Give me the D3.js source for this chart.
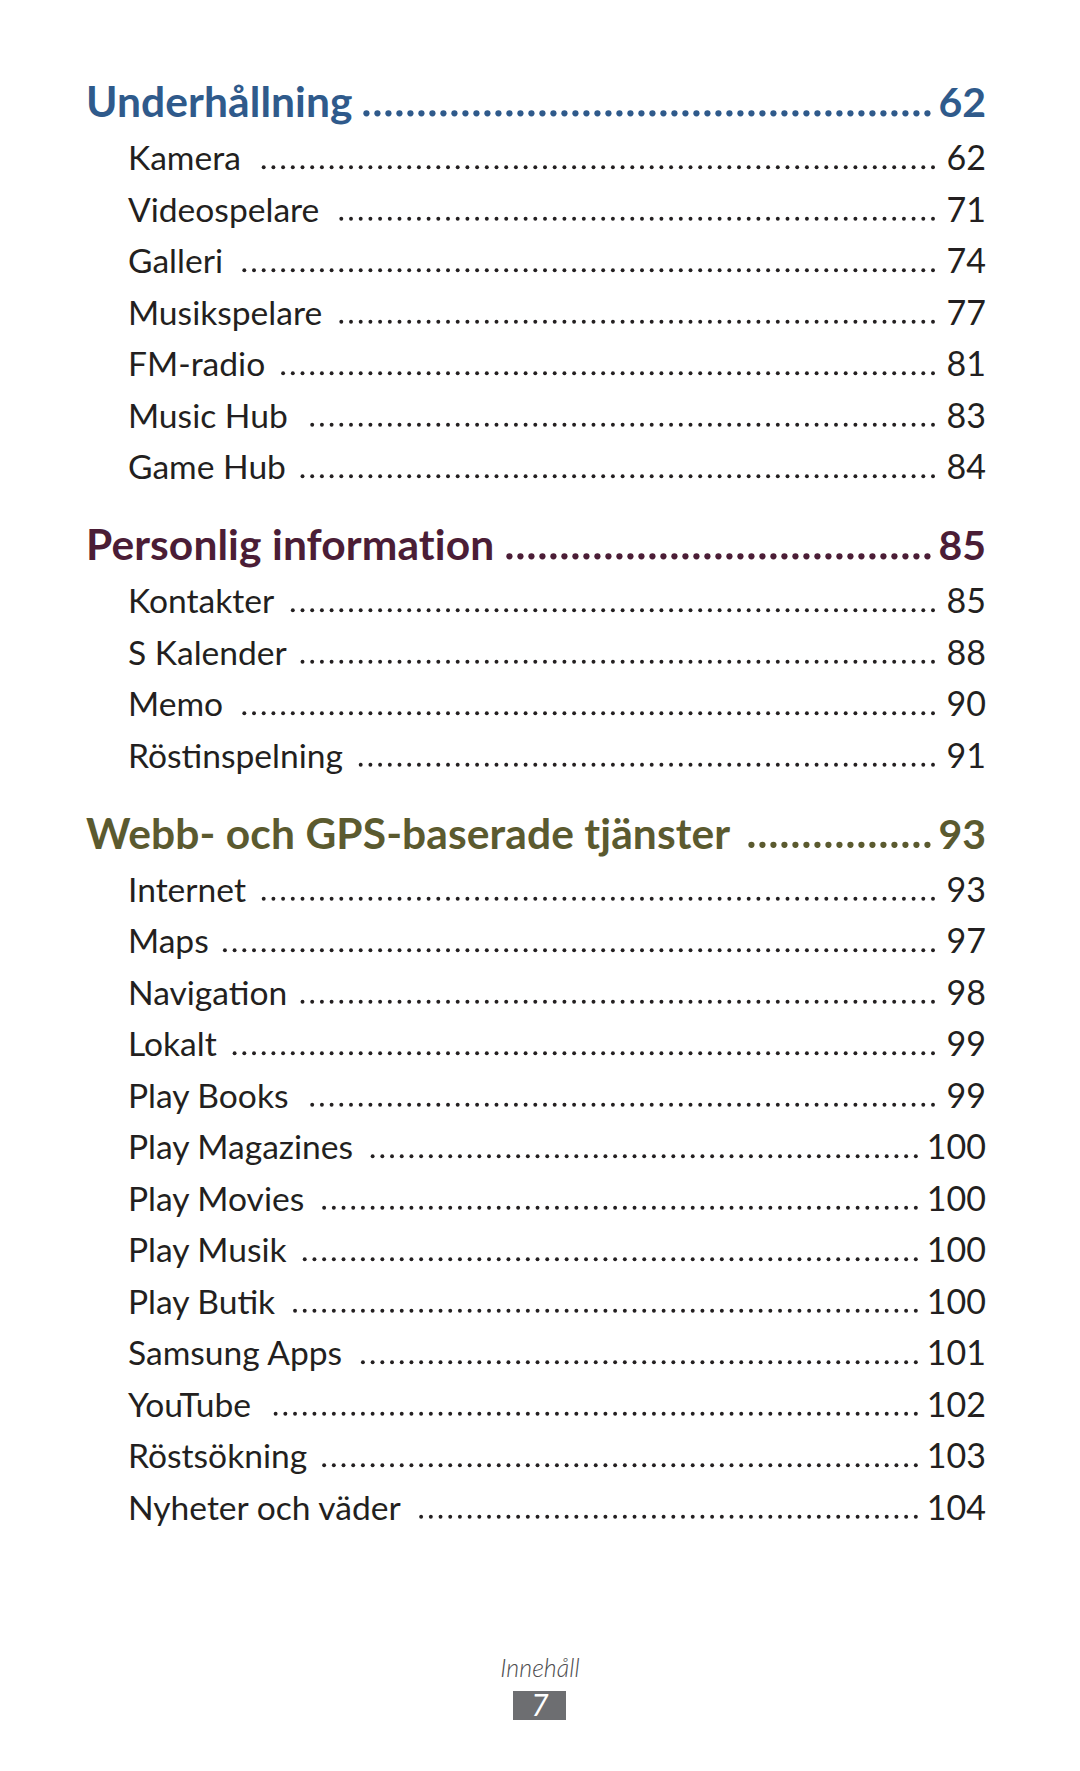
<!DOCTYPE html>
<html>
<head>
<meta charset="utf-8">
<script src="https://cdn.jsdelivr.net/npm/d3@7"></script>
<style>
  html, body { margin: 0; padding: 0; background: #fff; }
  svg { display: block; }
</style>
</head>
<body>
<svg id="page" width="1080" height="1771"></svg>
<script>
// ---- data ----
const sectionTitles = ["Underhållning", "Personlig information", "Webb- och GPS-baserade tjänster"];
const sectionPages = [62, 85, 93];
const sectionColors = ["#2f5a8b", "#4b1d36", "#5b5a2f"];

const underhallningItems = ["Kamera", "Videospelare", "Galleri", "Musikspelare", "FM-radio", "Music Hub", "Game Hub"];
const underhallningPages = [62, 71, 74, 77, 81, 83, 84];

const personligItems = ["Kontakter", "S Kalender", "Memo", "Röstinspelning"];
const personligPages = [85, 88, 90, 91];

const webbItems = ["Internet", "Maps", "Navigation", "Lokalt", "Play Books", "Play Magazines", "Play Movies",
  "Play Musik", "Play Butik", "Samsung Apps", "YouTube", "Röstsökning", "Nyheter och väder"];
const webbPages = [93, 97, 98, 99, 99, 100, 100, 100, 100, 101, 102, 103, 104];

const footerLabel = "Innehåll";
const pageNumber = "7";

// ---- layout ----
const svg = d3.select("#page");
const FONT = "Lato, 'Open Sans', sans-serif";
const leftHead = 86, leftItem = 128, rightEdge = 986, dotLimit = 933;

const groups = [
  { items: underhallningItems, pages: underhallningPages },
  { items: personligItems, pages: personligPages },
  { items: webbItems, pages: webbPages }
];

const rows = [];
let u = 0;
groups.forEach((g, gi) => {
  if (gi > 0) u += 81;
  rows.push({ type: "head", label: sectionTitles[gi], page: sectionPages[gi], color: sectionColors[gi], u: u });
  u += 53;
  g.items.forEach((name, i) => {
    if (i > 0) u += 51.5;
    rows.push({ type: "item", label: name, page: g.pages[i], color: "#231f20", u: u });
  });
});
const y = d3.scaleLinear().domain([0, 1]).range([117, 118]);

rows.forEach(r => {
  const isHead = r.type === "head";
  const by = y(r.u);
  const g = svg.append("g");
  const fs = isHead ? 42.5 : 33.6;
  const ls = isHead ? 0.1 : 0;
  const lbl = g.append("text")
    .attr("x", isHead ? leftHead : leftItem)
    .attr("y", by)
    .attr("fill", r.color)
    .attr("font-family", FONT)
    .attr("font-size", fs)
    .attr("letter-spacing", ls)
    .attr("font-weight", isHead ? 700 : 400)
    .text(r.label);
  const num = g.append("text")
    .attr("x", rightEdge)
    .attr("y", by)
    .attr("text-anchor", "end")
    .attr("fill", r.color)
    .attr("font-family", FONT)
    .attr("font-size", isHead ? 41 : 34)
    .attr("font-weight", isHead ? 700 : 400)
    .text(r.page);
  const textEnd = (isHead ? leftHead : leftItem) + lbl.node().getComputedTextLength();
  const numStart = rightEdge - num.node().getComputedTextLength();
  const step = isHead ? 11 : 9.7;
  const rad = isHead ? 3.1 : 1.95;
  const dy = isHead ? 3.7 : 2.7;
  const gap = isHead ? (r.label === "Underhållning" ? 7 : 15) : 15;
  const end = isHead ? numStart - 11 : Math.min(dotLimit, numStart - 11);
  const xs = [];
  for (let x = end; x >= textEnd + gap; x -= step) xs.push(x);
  g.selectAll("circle").data(xs).join("circle")
    .attr("cx", d => d).attr("cy", by - dy).attr("r", rad).attr("fill", r.color);
});

// footer
svg.append("text")
  .attr("x", 540).attr("y", 1677)
  .attr("text-anchor", "middle")
  .attr("font-family", FONT)
  .attr("font-style", "italic")
  .attr("font-weight", 300)
  .attr("font-size", 25)
  .attr("fill", "#4d4d4f")
  .text(footerLabel);
svg.append("rect")
  .attr("x", 513).attr("y", 1691).attr("width", 53).attr("height", 29)
  .attr("fill", "#6d6e71");
svg.append("text")
  .attr("x", 540).attr("y", 1716)
  .attr("text-anchor", "middle")
  .attr("font-family", FONT)
  .attr("font-style", "italic")
  .attr("font-weight", 400)
  .attr("font-size", 30)
  .attr("fill", "#ffffff")
  .text(pageNumber);
</script>
</body>
</html>
